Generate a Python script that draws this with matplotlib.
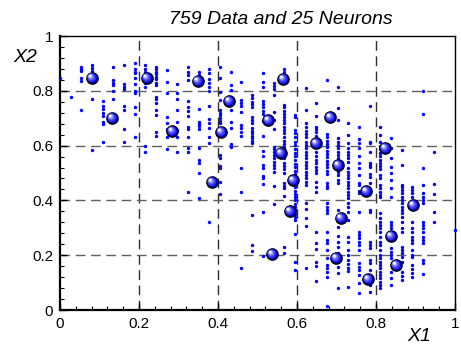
import matplotlib
matplotlib.use('Agg')
import matplotlib.pyplot as plt
from matplotlib.ticker import MultipleLocator
from matplotlib.transforms import offset_copy
import numpy as np

plt.rcParams['font.family'] = ['Liberation Sans', 'DejaVu Sans']

# ---- data: columns of data points (x position, list of y values) ----
col_x = [0.000, 0.027, 0.054, 0.081, 0.108, 0.135, 0.162, 0.189, 0.216, 0.243,
         0.270, 0.297, 0.324, 0.351, 0.378, 0.405, 0.432, 0.459, 0.486, 0.514,
         0.541, 0.568, 0.595, 0.622, 0.649, 0.676, 0.703, 0.730, 0.757, 0.784,
         0.811, 0.838, 0.865, 0.892, 0.919, 0.946, 1.000]

col_y = [
    [0.846],
    [0.776],
    [0.888, 0.880, 0.873, 0.846, 0.837, 0.730],
    [0.894, 0.884, 0.873, 0.769, 0.584],
    [0.764, 0.745, 0.732, 0.718, 0.708, 0.687, 0.679, 0.614],
    [0.886, 0.839, 0.830, 0.821, 0.800, 0.770],
    [0.894, 0.825, 0.815, 0.805, 0.745, 0.730, 0.661, 0.614],
    [0.900, 0.878, 0.870, 0.864, 0.848, 0.825, 0.799, 0.793, 0.740, 0.715, 0.630],
    [0.894, 0.878, 0.870, 0.837, 0.827, 0.813, 0.600, 0.578],
    [0.888, 0.878, 0.870, 0.861, 0.852, 0.842, 0.830, 0.821, 0.779, 0.769, 0.757,
     0.730, 0.712, 0.651, 0.635],
    [0.876, 0.831, 0.793, 0.703, 0.684, 0.662, 0.633, 0.586],
    [0.825, 0.793, 0.769, 0.730, 0.687, 0.657, 0.633, 0.578],
    [0.888, 0.870, 0.858, 0.839, 0.763, 0.740, 0.727, 0.708, 0.669, 0.659, 0.633,
     0.590, 0.578, 0.430],
    [0.870, 0.858, 0.733, 0.687, 0.678, 0.670, 0.660, 0.590, 0.547, 0.535, 0.500, 0.408],
    [0.878, 0.866, 0.842, 0.827, 0.815, 0.800, 0.745, 0.696, 0.684, 0.663, 0.633,
     0.608, 0.322],
    [0.888, 0.846, 0.797, 0.766, 0.730, 0.720, 0.710, 0.700, 0.691, 0.681, 0.565,
     0.555, 0.526, 0.520, 0.468, 0.423],
    [0.870, 0.821, 0.803, 0.730, 0.687, 0.665, 0.606, 0.596],
    [0.833, 0.766, 0.755, 0.745, 0.724, 0.675, 0.663, 0.651, 0.635, 0.517, 0.430, 0.152],
    [0.785, 0.773, 0.760, 0.752, 0.740, 0.703, 0.693, 0.684, 0.663, 0.654, 0.645,
     0.635, 0.627, 0.618, 0.608, 0.347, 0.237, 0.215],
    [0.864, 0.833, 0.813, 0.764, 0.752, 0.740, 0.727, 0.715, 0.691, 0.635, 0.581,
     0.562, 0.529, 0.517, 0.489, 0.481, 0.460, 0.359, 0.197],
    [0.827, 0.818, 0.805, 0.785, 0.724, 0.693, 0.660, 0.596, 0.586, 0.578, 0.566,
     0.554, 0.541, 0.529, 0.517, 0.505, 0.453, 0.387],
    [0.878, 0.870, 0.748, 0.740, 0.727, 0.715, 0.705, 0.693, 0.681, 0.669, 0.657,
     0.645, 0.630, 0.618, 0.606, 0.594, 0.581, 0.562, 0.554, 0.538, 0.526, 0.514,
     0.501, 0.462, 0.453, 0.444, 0.416, 0.231, 0.209],
    [0.712, 0.703, 0.657, 0.645, 0.630, 0.614, 0.602, 0.586, 0.574, 0.562, 0.547,
     0.533, 0.521, 0.508, 0.496, 0.484, 0.472, 0.460, 0.448, 0.436, 0.424, 0.412,
     0.400, 0.388, 0.376, 0.364, 0.352, 0.340, 0.328, 0.277, 0.176, 0.146],
    [0.809, 0.730, 0.681, 0.669, 0.654, 0.642, 0.630, 0.614, 0.602, 0.590, 0.578,
     0.566, 0.554, 0.541, 0.529, 0.517, 0.505, 0.493, 0.481, 0.468, 0.456, 0.392,
     0.367, 0.337, 0.307, 0.152],
    [0.755, 0.708, 0.669, 0.660, 0.651, 0.635, 0.620, 0.578, 0.562, 0.547, 0.535,
     0.523, 0.511, 0.499, 0.468, 0.450, 0.432, 0.286, 0.246, 0.222, 0.176, 0.161, 0.107],
    [0.839, 0.642, 0.630, 0.618, 0.606, 0.594, 0.581, 0.569, 0.557, 0.545, 0.533,
     0.521, 0.508, 0.496, 0.462, 0.453, 0.444, 0.389, 0.377, 0.365, 0.353, 0.286,
     0.255, 0.246, 0.219, 0.190, 0.164, 0.152, 0.140, 0.122, 0.015],
    [0.815, 0.736, 0.693, 0.627, 0.614, 0.602, 0.590, 0.578, 0.566, 0.554, 0.505,
     0.493, 0.474, 0.465, 0.365, 0.335, 0.302, 0.270, 0.249, 0.229, 0.207, 0.158,
     0.136, 0.079],
    [0.684, 0.639, 0.608, 0.590, 0.578, 0.566, 0.554, 0.541, 0.517, 0.505, 0.493,
     0.481, 0.468, 0.456, 0.444, 0.432, 0.420, 0.408, 0.389, 0.375, 0.359, 0.328,
     0.268, 0.250, 0.219, 0.201, 0.182, 0.168, 0.155, 0.143, 0.085],
    [0.669, 0.623, 0.608, 0.590, 0.562, 0.538, 0.517, 0.493, 0.462, 0.456, 0.435,
     0.426, 0.359, 0.286, 0.274, 0.262, 0.249, 0.237, 0.219, 0.170, 0.158, 0.146,
     0.128, 0.097, 0.061],
    [0.745, 0.614, 0.608, 0.578, 0.538, 0.529, 0.521, 0.496, 0.484, 0.462, 0.365,
     0.359, 0.249, 0.237, 0.225, 0.182, 0.170, 0.146, 0.122, 0.091, 0.067],
    [0.669, 0.639, 0.614, 0.599, 0.586, 0.574, 0.562, 0.547, 0.538, 0.526, 0.514,
     0.493, 0.481, 0.456, 0.444, 0.432, 0.420, 0.414, 0.353, 0.335, 0.322, 0.310,
     0.298, 0.286, 0.268, 0.249, 0.237, 0.219, 0.201, 0.189, 0.176, 0.164, 0.152,
     0.140, 0.128, 0.116, 0.103, 0.091, 0.079],
    [0.627, 0.590, 0.554, 0.523, 0.499, 0.474, 0.444, 0.414, 0.322, 0.310, 0.298,
     0.286, 0.225, 0.213, 0.201, 0.189, 0.140, 0.116, 0.091],
    [0.584, 0.529, 0.456, 0.448, 0.438, 0.426, 0.414, 0.401, 0.389, 0.377, 0.365,
     0.353, 0.341, 0.322, 0.298, 0.286, 0.231, 0.219, 0.207, 0.192, 0.176, 0.140,
     0.124, 0.109],
    [0.450, 0.438, 0.426, 0.414, 0.322, 0.298, 0.286, 0.268, 0.255, 0.243, 0.219,
     0.201, 0.192, 0.164, 0.149, 0.134, 0.122],
    [0.799, 0.715, 0.517, 0.456, 0.426, 0.414, 0.401, 0.389, 0.322, 0.310, 0.298,
     0.286, 0.268, 0.255, 0.243, 0.182, 0.173, 0.131],
    [0.578, 0.460, 0.423, 0.359, 0.322],
    [0.292],
]

# ---- data: the 25 neurons ----
neuron_x = [0.081, 0.132, 0.220, 0.284, 0.349, 0.408, 0.428, 0.385, 0.527, 0.565,
            0.559, 0.590, 0.582, 0.537, 0.648, 0.684, 0.704, 0.711, 0.699, 0.775,
            0.823, 0.780, 0.838, 0.851, 0.894]
neuron_y = [0.847, 0.701, 0.847, 0.653, 0.836, 0.650, 0.763, 0.467, 0.693, 0.843,
            0.573, 0.474, 0.361, 0.204, 0.609, 0.704, 0.529, 0.336, 0.190, 0.434,
            0.591, 0.113, 0.270, 0.164, 0.383]

ticks = [0, 0.2, 0.4, 0.6, 0.8, 1.0]
tick_labels = ['0', '0.2', '0.4', '0.6', '0.8', '1']
title_text = '759 Data and 25 Neurons'
xlabel_text = 'X1'
ylabel_text = 'X2'

W, H = 461, 347
fig = plt.figure(figsize=(W / 100, H / 100), dpi=100)
ax = fig.add_axes([60 / W, 1 - 310 / H, 395 / W, 274 / H])
ax.set_xlim(0, 1)
ax.set_ylim(0, 1)

# grid
for v in ticks[1:-1]:
    ax.axvline(v, color='#303030', lw=1.0, dashes=(7, 4), zorder=1)
    ax.axhline(v, color='#606060', lw=1.0, dashes=(7, 4), zorder=1)

# data points
xs = np.concatenate([[x] * len(ys) for x, ys in zip(col_x, col_y)])
ys = np.concatenate([np.array(ys) for ys in col_y])
ax.scatter(xs, ys, s=6, c='#0000ff', linewidths=0, zorder=3, clip_on=False)

# neurons as shaded spheres
nx = np.array(neuron_x)
ny = np.array(neuron_y)
ax.scatter(nx, ny, s=8.2 ** 2, facecolor='#0000b0', edgecolor='black',
           linewidths=0.9, zorder=4)
levels = 8
base = np.array([0.12, 0.12, 1.0])
for i in range(1, levels + 1):
    t = i / levels
    d = 7.2 * (1 - t) + 1.6 * t
    off = 1.4 * t
    col = base + (np.array([1, 1, 1]) - base) * (t ** 1.8)
    tr = offset_copy(ax.transData, fig=fig, x=-off, y=off, units='points')
    ax.scatter(nx, ny, s=d ** 2, facecolor=col, edgecolor='none',
               linewidths=0, zorder=4 + i * 0.01, transform=tr)

# ticks
ax.set_xticks(ticks)
ax.set_yticks(ticks)
ax.set_xticklabels(tick_labels)
ax.set_yticklabels(tick_labels)
ax.xaxis.set_minor_locator(MultipleLocator(0.04))
ax.yaxis.set_minor_locator(MultipleLocator(0.04))
ax.tick_params(which='both', direction='in', top=False, right=False,
               colors='black', labelsize=11, pad=5)
ax.tick_params(which='major', length=5, width=1)
ax.tick_params(which='minor', length=3, width=0.8)

for side in ['left', 'bottom']:
    ax.spines[side].set_linewidth(1.6)
for side in ['top', 'right']:
    ax.spines[side].set_linewidth(1.0)

fig.text(281 / W, 1 - 19 / H, title_text, fontsize=14, style='italic',
         ha='center', va='center')
fig.text(13 / W, 1 - 57 / H, ylabel_text, fontsize=14, style='italic',
         ha='left', va='center')
fig.text(407 / W, 2 / H, xlabel_text, fontsize=14, style='italic',
         ha='left', va='bottom')

fig.savefig('out.png', dpi=100)
